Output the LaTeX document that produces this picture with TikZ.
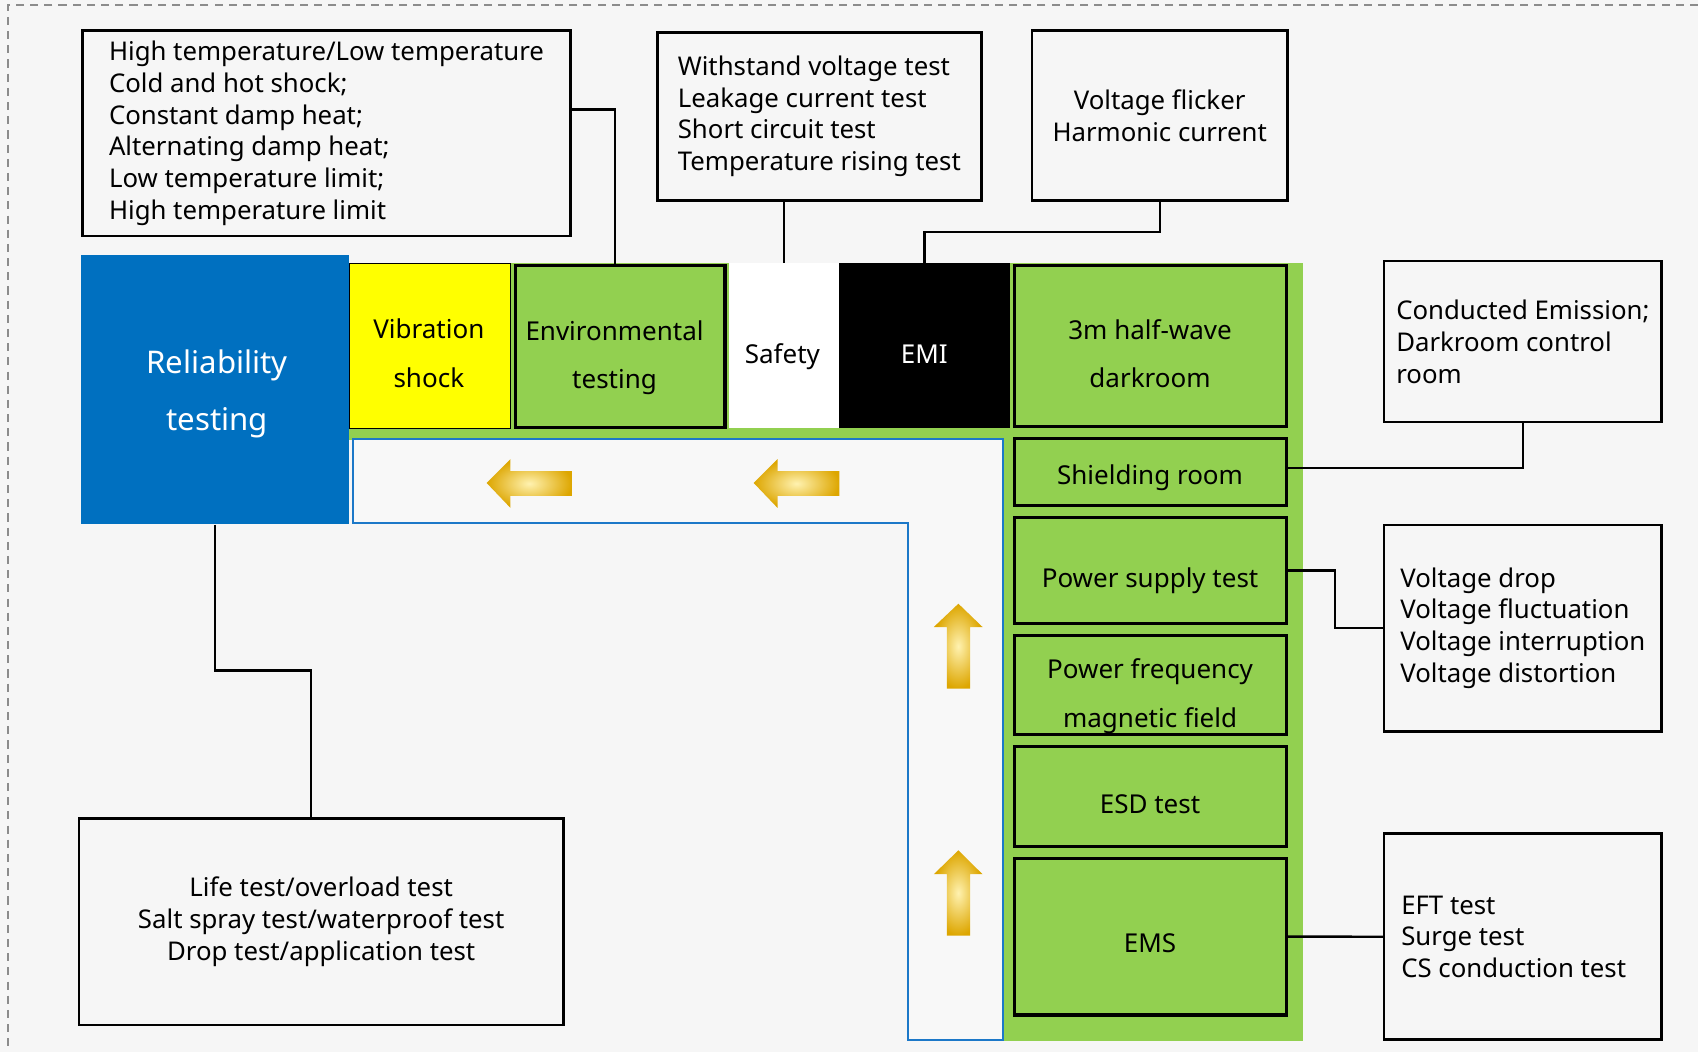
\documentclass[tikz,border=0pt]{standalone}
\usepackage{fontspec}
\setmainfont{Noto Sans}
\usetikzlibrary{calc}
\definecolor{bgc}{HTML}{F6F6F6}
\definecolor{innerc}{HTML}{F8F8F8}
\definecolor{relblue}{HTML}{0070C0}
\definecolor{lblue}{HTML}{1C78C8}
\definecolor{grn}{HTML}{92D050}
\definecolor{ylw}{HTML}{FFFF00}
\definecolor{gold}{HTML}{DDA600}
\definecolor{goldlight}{HTML}{FFF2B0}
\definecolor{dashgray}{HTML}{8C8C8C}
\begin{document}
\begin{tikzpicture}[x=1pt,y=-1pt,
  txtbox/.style={draw=black, line width=2.4pt, rectangle, inner sep=0pt,
    font=\fontsize{23.8}{29.3}\selectfont, align=left},
  gbox/.style={draw=black, line width=3pt, fill=grn, rectangle, inner sep=0pt},
  topbox/.style={rectangle, inner sep=0pt},
  lbl/.style={font=\fontsize{24}{44.6}\selectfont, align=center, inner sep=0pt},
  conn/.style={draw=black, line width=2.2pt},
  garrow/.style={inner color=goldlight, outer color=gold},
]
\fill[bgc] (0,0) rectangle (1568,971);
\useasboundingbox (0,0) rectangle (1568,971);
% dashed frame (top and left edges visible)
\draw[dashgray, line width=1.8pt, dash pattern=on 7.5pt off 5.6pt]
  (1568,4.6) -- (7,4.6) -- (7,971);
% green background
\fill[grn] (322,243) rectangle (1203,406);
\fill[grn] (926,243) rectangle (1203,961);
% blue L-shaped channel
\draw[lblue, line width=2pt, fill=innerc]
  (325.6,405.7) -- (926.2,405.7) -- (926.2,960.4) -- (838.4,960.4)
  -- (838.4,483.3) -- (325.6,483.3) -- cycle;

% main blue block
\node[topbox, fill=relblue, minimum width=247.4, minimum height=248.7] (rel) at (198.6,359.9) {};
\node[text=white, font=\fontsize{28.8}{52.3}\selectfont, align=center, inner sep=0pt]
  (relT) at (200.5,363.5) {Reliability\\testing};

% top row
\node[topbox, fill=ylw, draw=black, line width=0.8pt, minimum width=148.5, minimum height=152.2] (vib) at (396.8,319.7) {};
\node[lbl] (vibT) at (396,326.3) {Vibration\\shock};
\node[gbox, minimum width=193.5, minimum height=149.5] (envbox) at (572.7,319.9) {};
\node[lbl] (envT) at (567.5,330.5) {Environmental\\testing};
\node[topbox, fill=white, minimum width=101.6, minimum height=152] (safe) at (724,319) {};
\node[lbl] (safeT) at (722.5,329) {Safety};
\node[topbox, fill=black, minimum width=157.7, minimum height=152.5] (emi) at (853.6,319.2) {};
\node[lbl, text=white] (emiT) at (853.5,327.3) {EMI};
\node[gbox, minimum width=251.2, minimum height=148.7] (dark) at (1062.4,319.6) {};
\node[lbl] (darkT) at (1062,326.7) {3m half-wave\\darkroom};

% right column
\node[gbox, minimum width=251.2, minimum height=62.3] (shield) at (1062.4,435.9) {};
\node[lbl] (shieldT) at (1062,440.8) {Shielding room};
\node[gbox, minimum width=251.2, minimum height=98.2] (pst) at (1062.4,526.9) {};
\node[lbl] (pstT) at (1062,536) {Power supply test};
\node[gbox, minimum width=251.2, minimum height=91.6] (pfm) at (1062.4,632.7) {};
\node[lbl] (pfmT) at (1062,643) {Power frequency\\magnetic field};
\node[gbox, minimum width=251.2, minimum height=92.1] (esd) at (1062.4,735.5) {};
\node[lbl] (esdT) at (1062,742.6) {ESD test};
\node[gbox, minimum width=251.2, minimum height=144.7] (ems) at (1062.4,864.9) {};
\node[lbl] (emsT) at (1062,871) {EMS};

% text boxes
\node[txtbox, minimum width=450.7, minimum height=189.7] (envtxt) at (301.5,123.2)
  {High temperature/Low temperature\\Cold and hot shock;\\Constant damp heat;\\Alternating damp heat;\\Low temperature limit;\\High temperature limit};
\node[txtbox, minimum width=299.1, minimum height=155.2] (saftxt) at (756.6,107.4)
  {Withstand voltage test\\Leakage current test\\Short circuit test\\Temperature rising test};
\node[txtbox, minimum width=235.8, minimum height=156.8, align=center] (flick) at (1070.9,106.6)
  {Voltage flicker\\Harmonic current};
\node[txtbox, minimum width=256.3, minimum height=148.6] (cond) at (1406.3,315.5)
  {Conducted Emission;\\Darkroom control\\room};
\node[txtbox, minimum width=256.3, minimum height=190.7] (volt) at (1406.3,580)
  {Voltage drop\\Voltage fluctuation\\Voltage interruption\hspace*{11pt}\\Voltage distortion};
\node[txtbox, minimum width=256.3, minimum height=190.2] (eft) at (1406.3,865)
  {EFT test\\Surge test\\CS conduction test\hspace*{17pt}};
\node[txtbox, minimum width=447.6, minimum height=190.3, align=center] (life) at (296.6,851.2)
  {Life test/overload test\\Salt spray test/waterproof test\\Drop test/application test};

% flow arrows
\shade[garrow] (449.4,446) -- (471.4,424) -- (471.4,435) -- (528,435) -- (528,458) -- (471.4,458) -- (471.4,469) -- cycle;
\shade[garrow] (696,446) -- (718,424) -- (718,435) -- (775,435) -- (775,458) -- (718,458) -- (718,469) -- cycle;
\shade[garrow] (885,557.5) -- (907.3,579) -- (895.8,579) -- (895.8,636) -- (874.3,636) -- (874.3,579) -- (862.3,579) -- cycle;
\shade[garrow] (885,785.2) -- (907.3,807.3) -- (895.8,807.3) -- (895.8,864) -- (874.3,864) -- (874.3,807.3) -- (862.3,807.3) -- cycle;

% connectors
\draw[conn] ($(envtxt.north east)!0.385!(envtxt.south east)$) -| ([xshift=-5pt]envbox.north);
\draw[conn] (saftxt.south -| safe.north) -- (safe.north);
\draw[conn] (flick.south) -- ++(0,28.3) -| (emi.north);
\draw[conn] (cond.south) |- ([yshift=3.7pt]shield.east);
\draw[conn] (pst.east) -- ++(43.4,0) |- (volt.west);
\draw[conn] (ems.east) -- (eft.west);
\draw[conn] (rel.south) -- ++(0,134.8) -| ([xshift=-9.3pt]life.north);
\end{tikzpicture}
\end{document}
